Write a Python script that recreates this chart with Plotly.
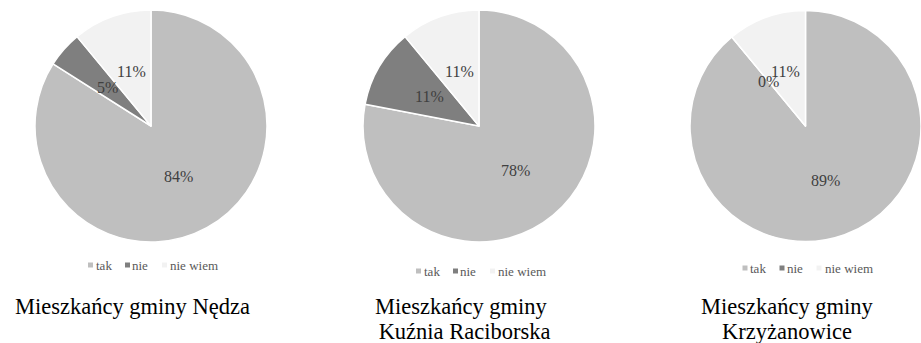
import math
import plotly.graph_objects as go

# Survey answers (percent) for the three communes
categories = ["tak", "nie", "nie wiem"]
nedza = [84, 5, 11]
kuznia = [78, 11, 11]
krzyzanowice = [89, 0, 11]
panel_titles = [
    ["Mieszkańcy gminy Nędza"],
    ["Mieszkańcy gminy", " Kuźnia Raciborska"],
    ["Mieszkańcy gminy", "Krzyżanowice"],
]
slice_colors = ["#bfbfbf", "#7f7f7f", "#f2f2f2"]

W, H = 921, 343
SERIF = '"Liberation Serif", "Times New Roman", serif'

# panel geometry in pixels
centers_x = [151, 479, 805.5]
center_y = 126
radii = [116, 116, 115.5]
title_x = [132.5, 461, 787]
title_rows_y = [306, 331]
legend_y = [265, 271, 268]
legend_square_dx = [0, 37, 74]
legend_text_dx = [5.5, 42, 80]


def px(x):
    return x / W


def py(y):
    return 1 - y / H


fig = go.Figure()
annotations = []
shapes = []

for i, values in enumerate([nedza, kuznia, krzyzanowice]):
    cx, r = centers_x[i], radii[i]
    fig.add_trace(go.Pie(
        labels=categories,
        values=values,
        sort=False,
        direction="clockwise",
        rotation=0,
        marker=dict(colors=slice_colors, line=dict(color="#ffffff", width=1.5)),
        textinfo="none",
        hoverinfo="label+percent",
        showlegend=False,
        domain=dict(x=[px(cx - r), min(1.0, px(cx + r))],
                    y=[py(center_y + r), py(center_y - r)]),
    ))

    # value labels halfway out along each slice's bisector
    total = sum(values)
    cum = 0.0
    for v in values:
        theta = 2 * math.pi * (cum + v / 2) / total
        cum += v
        lx = cx + 0.5 * r * math.sin(theta)
        ly = center_y - 0.5 * r * math.cos(theta)
        annotations.append(dict(
            x=px(lx), y=py(ly), xref="paper", yref="paper",
            text=f"{v}%", showarrow=False,
            xanchor="center", yanchor="middle",
            font=dict(family=SERIF, size=16, color="#404040"),
        ))

    # legend row under each pie
    left = cx - 63
    for k, name in enumerate(categories):
        sx = left + legend_square_dx[k] + 2.5
        shapes.append(dict(
            type="rect", xref="paper", yref="paper",
            x0=px(sx - 2.5), x1=px(sx + 2.5),
            y0=py(legend_y[i] + 2.5), y1=py(legend_y[i] - 2.5),
            fillcolor=slice_colors[k], line=dict(width=0),
        ))
        annotations.append(dict(
            x=px(left + legend_text_dx[k]), y=py(legend_y[i]),
            xref="paper", yref="paper", text=name, showarrow=False,
            xanchor="left", yanchor="middle",
            font=dict(family=SERIF, size=13, color="#595959"),
        ))

    # panel caption
    for row, line in enumerate(panel_titles[i]):
        annotations.append(dict(
            x=px(title_x[i]), y=py(title_rows_y[row]),
            xref="paper", yref="paper", text=line, showarrow=False,
            xanchor="center", yanchor="middle",
            font=dict(family=SERIF, size=22.5, color="#000000"),
        ))

fig.update_layout(
    width=W, height=H,
    margin=dict(l=0, r=0, t=0, b=0),
    paper_bgcolor="#ffffff",
    plot_bgcolor="#ffffff",
    annotations=annotations,
    shapes=shapes,
    showlegend=False,
)

fig.write_html("out.html")
